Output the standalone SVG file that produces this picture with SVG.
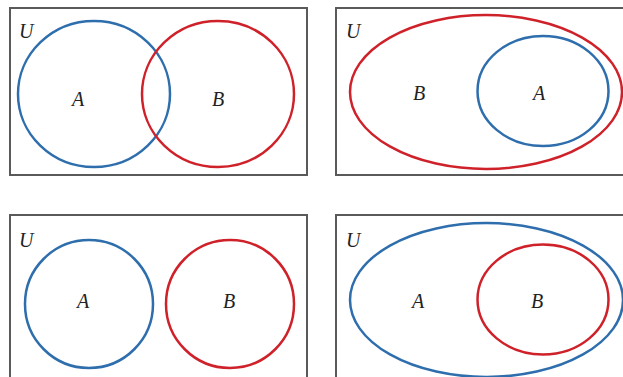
<svg xmlns="http://www.w3.org/2000/svg" width="623" height="377" viewBox="0 0 623 377">
<style>
.frame{fill:none;stroke:#5a5a5a;stroke-width:2}
.blue{fill:none;stroke:#2e6ead;stroke-width:2.5}
.red{fill:none;stroke:#cf2129;stroke-width:2.5}
text{font-family:"Liberation Serif","DejaVu Serif",serif;font-style:italic;font-size:20px;fill:#222}
</style>
<rect width="623" height="377" fill="#fff"/>
<g id="panel1">
<rect class="frame" x="10" y="8" width="297" height="167"/>
<text x="19" y="38">U</text>
<g id="p1-A"><ellipse class="blue" cx="94" cy="94" rx="76" ry="73"/><text x="72" y="106">A</text></g>
<g id="p1-B"><ellipse class="red" cx="218" cy="94" rx="76" ry="73"/><text x="212" y="106">B</text></g>
</g>
<g id="panel2">
<rect class="frame" x="336" y="8" width="297" height="167"/>
<text x="346" y="38">U</text>
<g id="p2-B"><ellipse class="red" cx="486" cy="92" rx="136" ry="77"/><text x="413" y="100">B</text></g>
<g id="p2-A"><ellipse class="blue" cx="543" cy="91" rx="65.5" ry="55"/><text x="533" y="100">A</text></g>
</g>
<g id="panel3">
<rect class="frame" x="10" y="215" width="297" height="167"/>
<text x="19" y="247">U</text>
<g id="p3-A"><circle class="blue" cx="89" cy="304" r="64"/><text x="77" y="308">A</text></g>
<g id="p3-B"><circle class="red" cx="230" cy="304" r="64"/><text x="223" y="308">B</text></g>
</g>
<g id="panel4">
<rect class="frame" x="336" y="215" width="297" height="167"/>
<text x="346" y="247">U</text>
<g id="p4-A"><ellipse class="blue" cx="486.5" cy="300" rx="136.5" ry="77"/><text x="412" y="308">A</text></g>
<g id="p4-B"><ellipse class="red" cx="543" cy="299.5" rx="65.5" ry="55"/><text x="531" y="308">B</text></g>
</g>
<g id="connectors"/>
</svg>
